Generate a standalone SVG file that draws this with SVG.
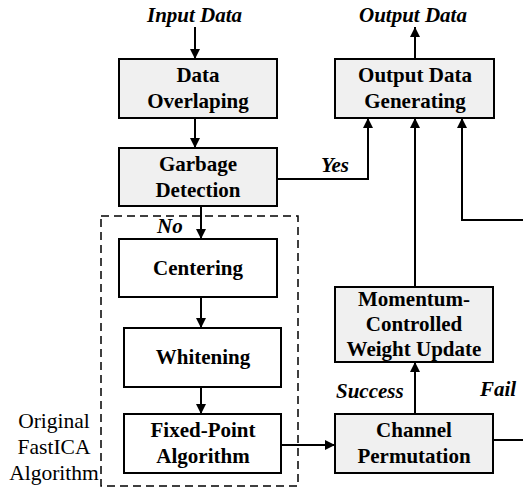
<svg xmlns="http://www.w3.org/2000/svg" width="523" height="489" viewBox="0 0 523 489">
  <style>
    .box { stroke: #000; stroke-width: 2; }
    .gray { fill: #f0f0f0; }
    .white { fill: #ffffff; }
    .t { font-family: "Liberation Serif", "Times New Roman", serif; font-weight: bold; font-size: 21px; text-anchor: middle; fill: #000; }
    .lbl { font-family: "Liberation Serif", "Times New Roman", serif; font-weight: bold; font-style: italic; font-size: 21px; fill: #000; }
    .side { font-family: "Liberation Serif", "Times New Roman", serif; font-size: 21.5px; text-anchor: middle; fill: #000; }
    .wire { fill: none; stroke: #000; stroke-width: 2; }
    .dash { fill: none; stroke: #000; stroke-width: 1.5; stroke-dasharray: 8 5; }
  </style>
  <defs>
    <marker id="arrow" markerWidth="10" markerHeight="10" refX="10" refY="5" orient="auto" markerUnits="userSpaceOnUse">
      <path d="M0,0 L10,5 L0,10 Z" fill="#000"/>
    </marker>
  </defs>

  <rect width="523" height="489" fill="#fff"/>

  <!-- FastICA group outline -->
  <g id="fastica-group">
    <rect class="dash" x="101" y="216" width="197" height="270"/>
    <text class="side" x="54" y="428">Original</text>
    <text class="side" x="54" y="454">FastICA</text>
    <text class="side" x="54" y="480">Algorithm</text>
  </g>

  <!-- connectors -->
  <g id="connectors">
    <path class="wire" d="M195,27 V59" marker-end="url(#arrow)"/>
    <path class="wire" d="M195,118 V148" marker-end="url(#arrow)"/>
    <path class="wire" d="M201,206 V239" marker-end="url(#arrow)"/>
    <path class="wire" d="M201,297 V328" marker-end="url(#arrow)"/>
    <path class="wire" d="M201,387 V414" marker-end="url(#arrow)"/>
    <path class="wire" d="M281,445 H335" marker-end="url(#arrow)"/>
    <path class="wire" d="M277,179 H368 V118" marker-end="url(#arrow)"/>
    <path class="wire" d="M415,414 V362" marker-end="url(#arrow)"/>
    <path class="wire" d="M415,287 V118" marker-end="url(#arrow)"/>
    <path class="wire" d="M523,220 H462 V118" marker-end="url(#arrow)"/>
    <path class="wire" d="M493,440 H523"/>
    <path class="wire" d="M415,59 V27" marker-end="url(#arrow)"/>
    <text class="lbl" x="147" y="22">Input Data</text>
    <text class="lbl" x="359" y="22">Output Data</text>
    <text class="lbl" x="321" y="172">Yes</text>
    <text class="lbl" x="157" y="233">No</text>
    <text class="lbl" x="336" y="398">Success</text>
    <text class="lbl" x="480" y="396">Fail</text>
  </g>

  <g id="data-overlaping">
    <rect class="box gray" x="119" y="59" width="158" height="59"/>
    <text class="t" x="198" y="82">Data</text>
    <text class="t" x="198" y="108">Overlaping</text>
  </g>

  <g id="garbage-detection">
    <rect class="box gray" x="119" y="148" width="158" height="58"/>
    <text class="t" x="198" y="171">Garbage</text>
    <text class="t" x="198" y="197">Detection</text>
  </g>

  <g id="centering">
    <rect class="box white" x="119" y="239" width="158" height="58"/>
    <text class="t" x="198" y="275">Centering</text>
  </g>

  <g id="whitening">
    <rect class="box white" x="124" y="328" width="157" height="59"/>
    <text class="t" x="203" y="364">Whitening</text>
  </g>

  <g id="fixed-point">
    <rect class="box white" x="124" y="414" width="157" height="59"/>
    <text class="t" x="203" y="437">Fixed-Point</text>
    <text class="t" x="203" y="463">Algorithm</text>
  </g>

  <g id="output-generating">
    <rect class="box gray" x="335" y="59" width="159" height="59"/>
    <text class="t" x="415" y="82">Output Data</text>
    <text class="t" x="415" y="108">Generating</text>
  </g>

  <g id="weight-update">
    <rect class="box gray" x="335" y="287" width="158" height="75"/>
    <text class="t" x="414" y="306">Momentum-</text>
    <text class="t" x="414" y="331">Controlled</text>
    <text class="t" x="414" y="356">Weight Update</text>
  </g>

  <g id="channel-permutation">
    <rect class="box gray" x="335" y="414" width="158" height="59"/>
    <text class="t" x="414" y="437">Channel</text>
    <text class="t" x="414" y="463">Permutation</text>
  </g>
</svg>
